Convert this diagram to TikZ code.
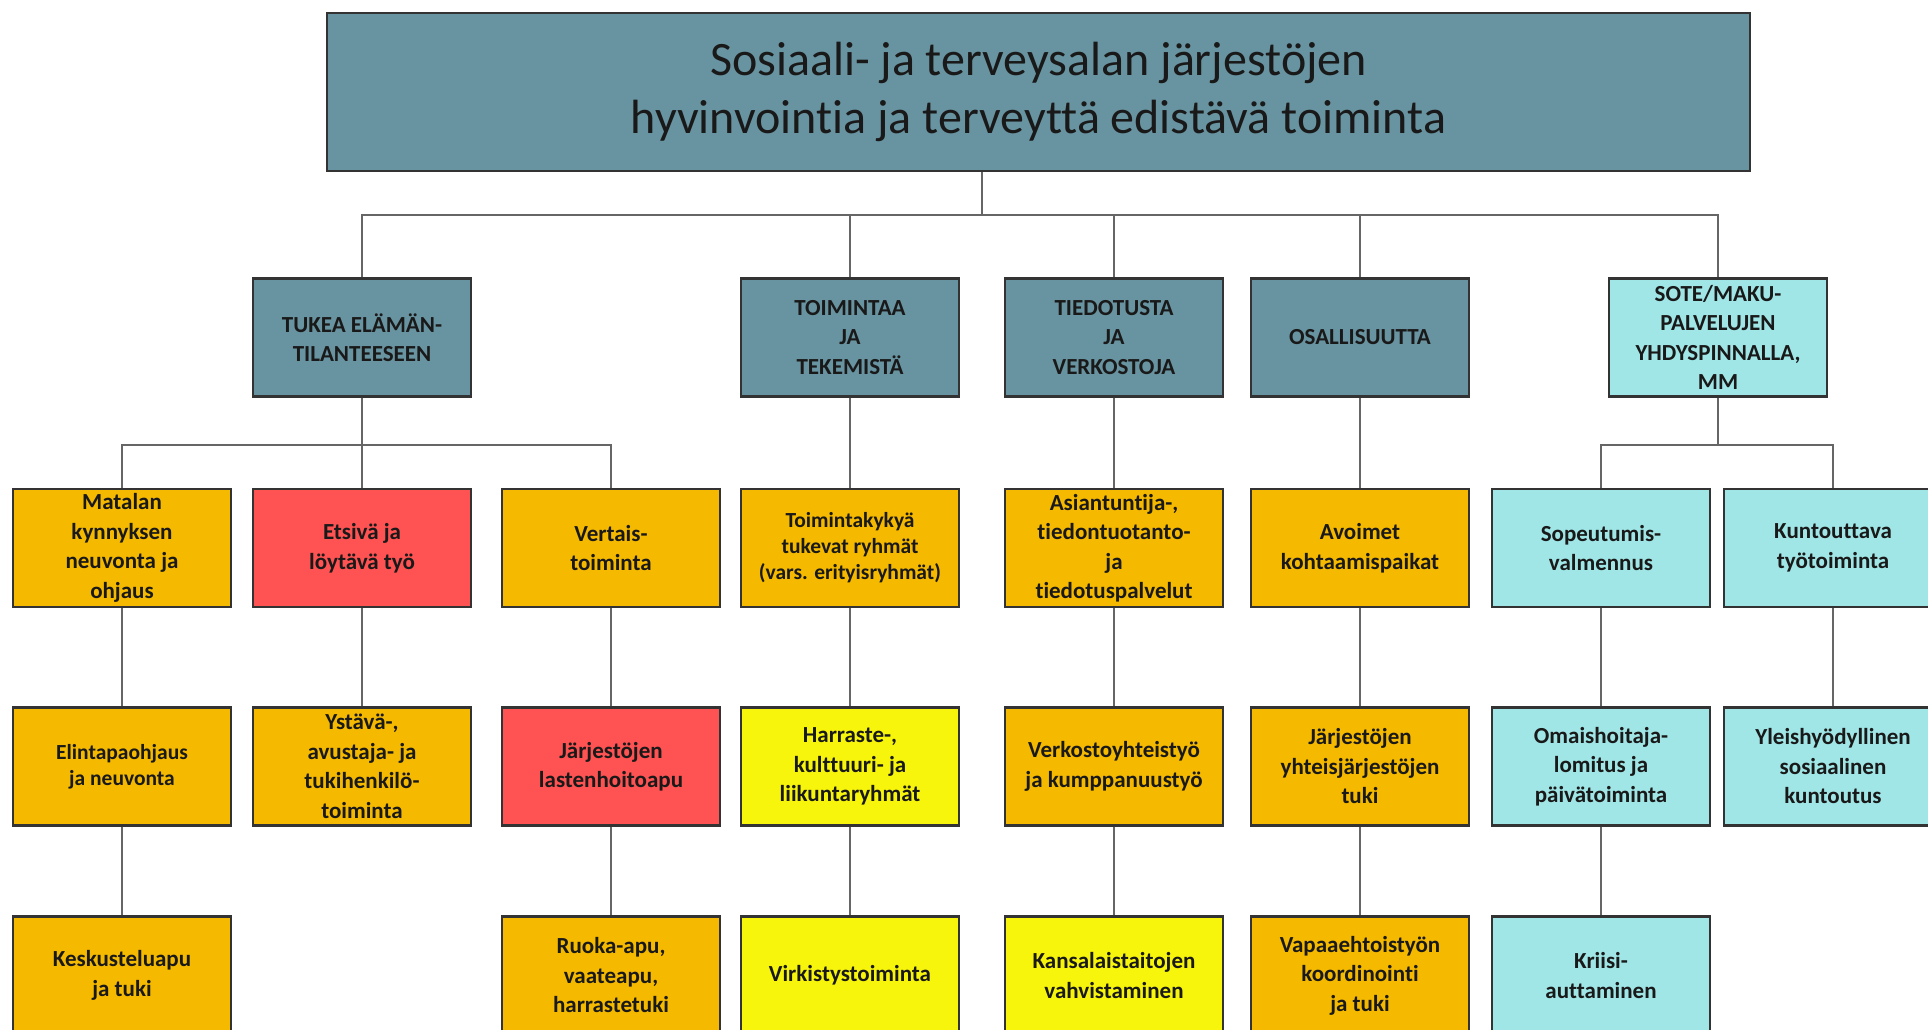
\documentclass[tikz,border=0pt]{standalone}
\usepackage{fontspec}
\setmainfont{Carlito}[Ligatures=NoCommon]
\usepackage{xcolor}
\definecolor{orgteal}{RGB}{104,147,160}
\definecolor{orgorange}{RGB}{245,185,0}
\definecolor{orgred}{RGB}{255,82,82}
\definecolor{orgyellow}{RGB}{248,245,12}
\definecolor{orgcyan}{RGB}{160,230,230}
\tikzset{
  x=1pt,
  y=-1pt,
}
\tikzstyle{box}=[draw=black!80,line width=2.4,minimum width=218,minimum height=118,
  inner sep=0,align=center,text=black!90,font=\bfseries\fontsize{23}{29.5}\selectfont]
\tikzstyle{small}=[font=\bfseries\fontsize{21.5}{26}\selectfont]
\tikzstyle{tealbox}=[box,fill=orgteal]
\tikzstyle{orangebox}=[box,fill=orgorange]
\tikzstyle{redbox}=[box,fill=orgred]
\tikzstyle{yellowbox}=[box,fill=orgyellow]
\tikzstyle{cyanbox}=[box,fill=orgcyan]
\tikzstyle{link}=[draw=black!60,line width=1.6]

\begin{document}
\begin{tikzpicture}
    \useasboundingbox (0,0) rectangle (1928,1030);
    \node[tealbox,minimum width=1423,minimum height=158,
      font=\fontsize{48}{58}\selectfont] (title) at (1038.5,92)
      {Sosiaali- ja terveysalan järjestöjen\\hyvinvointia ja terveyttä edistävä toiminta};
    % first row
    \node[tealbox] (tukea) at (362,337.5) {TUKEA ELÄMÄN-\\TILANTEESEEN};
    \node[tealbox] (toimintaa) at (850,337.5) {TOIMINTAA\\JA\\TEKEMISTÄ};
    \node[tealbox] (tiedotusta) at (1114,337.5) {TIEDOTUSTA\\JA\\VERKOSTOJA};
    \node[tealbox] (osallisuutta) at (1360,337.5) {OSALLISUUTTA};
    \node[cyanbox] (sote) at (1718,337.5) {SOTE/MAKU-\\PALVELUJEN\\YHDYSPINNALLA,\\MM};
    % second row
    \node[orangebox] (matalan) at (122,548) {Matalan\\kynnyksen\\neuvonta ja\\ohjaus};
    \node[redbox] (etsiva) at (362,548) {Etsivä ja\\löytävä työ};
    \node[orangebox] (vertais) at (611,548) {Vertais-\\toiminta};
    \node[orangebox,small] (toimintakyky) at (850,548) {Toimintakykyä\\tukevat ryhmät\\(vars. erityisryhmät)};
    \node[orangebox] (asiantuntija) at (1114,548) {Asiantuntija-,\\tiedontuotanto-\\ja\\tiedotuspalvelut};
    \node[orangebox] (avoimet) at (1360,548) {Avoimet\\kohtaamispaikat};
    \node[cyanbox] (sopeutumis) at (1601,548) {Sopeutumis-\\valmennus};
    \node[cyanbox] (kuntouttava) at (1833,548) {Kuntouttava\\työtoiminta};
    % third row
    \node[orangebox,small] (elintapa) at (122,766.5) {Elintapaohjaus\\ja neuvonta};
    \node[orangebox] (ystava) at (362,766.5) {Ystävä-,\\avustaja- ja\\tukihenkilö-\\toiminta};
    \node[redbox] (lastenhoito) at (611,766.5) {Järjestöjen\\lastenhoitoapu};
    \node[yellowbox] (harraste) at (850,766.5) {Harraste-,\\kulttuuri- ja\\liikuntaryhmät};
    \node[orangebox] (verkosto) at (1114,766.5) {Verkostoyhteistyö\\ja kumppanuustyö};
    \node[orangebox] (yhteis) at (1360,766.5) {Järjestöjen\\yhteisjärjestöjen\\tuki};
    \node[cyanbox] (omaishoito) at (1601,766.5) {Omaishoitaja-\\lomitus ja\\päivätoiminta};
    \node[cyanbox] (yleishyod) at (1833,766.5) {Yleishyödyllinen\\sosiaalinen\\kuntoutus};
    % fourth row
    \node[orangebox] (keskustelu) at (122,975.5) {Keskusteluapu\\ja tuki};
    \node[orangebox] (ruoka) at (611,975.5) {Ruoka-apu,\\vaateapu,\\harrastetuki};
    \node[yellowbox] (virkistys) at (850,975.5) {Virkistystoiminta};
    \node[yellowbox] (kansalais) at (1114,975.5) {Kansalaistaitojen\\vahvistaminen};
    \node[orangebox] (vapaaeht) at (1360,975.5) {Vapaaehtoistyön\\koordinointi\\ja tuki};
    \node[cyanbox] (kriisi) at (1601,975.5) {Kriisi-\\auttaminen};
    % connectors
    \coordinate (tstem) at (982,215);
    \coordinate (lbar) at (0,445);
    \draw[link] (title.south -| tstem) -- (tstem);
    \draw[link] (tukea.north) |- (sote.north |- tstem) -- (sote.north);
    \foreach \n in {toimintaa,tiedotusta,osallisuutta}
      \draw[link] (\n.north) -- (\n.north |- tstem);
    \draw[link] (matalan.north) |- (vertais.north |- lbar) -- (vertais.north);
    \draw[link] (sote.south) -- (sote.south |- lbar);
    \draw[link] (sopeutumis.north) |- (kuntouttava.north |- lbar) -- (kuntouttava.north);
    \foreach \a/\b in {tukea/etsiva,toimintaa/toimintakyky,tiedotusta/asiantuntija,
        osallisuutta/avoimet,matalan/elintapa,etsiva/ystava,vertais/lastenhoito,
        toimintakyky/harraste,asiantuntija/verkosto,avoimet/yhteis,
        sopeutumis/omaishoito,kuntouttava/yleishyod,elintapa/keskustelu,
        lastenhoito/ruoka,harraste/virkistys,verkosto/kansalais,
        yhteis/vapaaeht,omaishoito/kriisi}
      \draw[link] (\a.south) -- (\b.north);
\end{tikzpicture}
\end{document}
